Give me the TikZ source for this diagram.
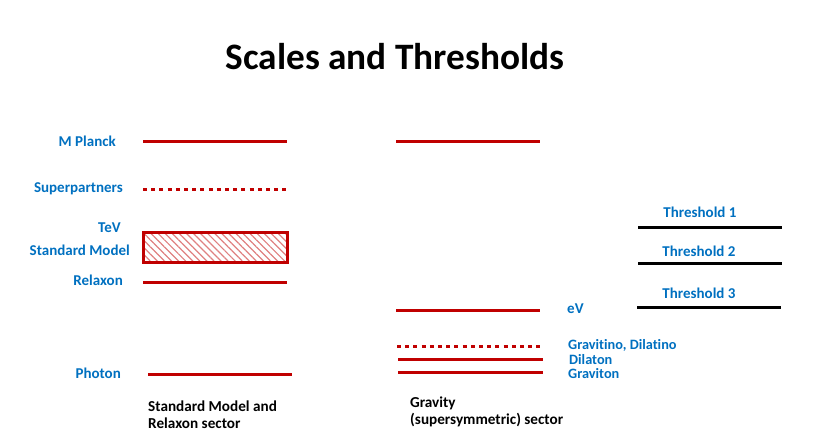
\documentclass[tikz,border=0pt]{standalone}
\usepackage{fontspec}
\setmainfont[Ligatures={NoCommon}]{Carlito}
\usetikzlibrary{patterns.meta}
\definecolor{lblue}{HTML}{0070C0}
\definecolor{lred}{HTML}{C00000}
\begin{document}
\begin{tikzpicture}[x=1pt,y=-1pt,
  lvl/.style={draw=lred,line width=3pt},
  dotlvl/.style={draw=lred,line width=3pt,dash pattern=on 4pt off 4.2pt},
  thr/.style={draw=black,line width=3pt},
  lab/.style={font=\bfseries\fontsize{15}{17}\selectfont,text=lblue,inner sep=0pt},
  tight/.style={font=\bfseries\fontsize{14.3}{16}\selectfont,text height=8pt,text depth=1pt,anchor=base west},
  sec/.style={font=\bfseries\fontsize{15.2}{17}\selectfont,text=black,inner sep=0pt,align=left}]
\useasboundingbox (0,0) rectangle (817,436);
\node[font=\bfseries\fontsize{37.3}{40}\selectfont] (title) at (395,57) {Scales and Thresholds};
% left sector
\coordinate (mp1) at (143,141); \coordinate (mp2) at (287,141);
\draw[lvl] (mp1) -- (mp2);
\node[lab,anchor=east] (mpl) at (116,141) {M Planck};
\coordinate (sp1) at (143,189); \coordinate (sp2) at (289,189);
\draw[dotlvl] (sp1) -- (sp2);
\node[lab,anchor=east] (spl) at (123,189) {Superpartners};
\node[lab,anchor=east] (tev) at (121,228) {TeV};
\node[draw=lred,line width=3pt,pattern={Lines[angle=-45,distance=5pt,line width=1.2pt]},pattern color=lred!50,minimum width=144pt,minimum height=30pt,inner sep=0pt,anchor=north west] (sm) at (142.5,232) {};
\node[lab,anchor=east] (sml) at (130,250) {Standard Model};
\coordinate (rx1) at (143,282); \coordinate (rx2) at (287,282);
\draw[lvl] (rx1) -- (rx2);
\node[lab,anchor=east] (rxl) at (123,280) {Relaxon};
\coordinate (ph1) at (148,374); \coordinate (ph2) at (292,374);
\draw[lvl] (ph1) -- (ph2);
\node[lab,anchor=east] (phl) at (121,373) {Photon};
\node[sec,anchor=north west] (sms) at (148,401) {Standard Model and\\Relaxon sector};
% gravity sector
\coordinate (g1) at (396,141); \coordinate (g2) at (540,141);
\draw[lvl] (g1) -- (g2);
\coordinate (ev1) at (396,310); \coordinate (ev2) at (540,310);
\draw[lvl] (ev1) -- (ev2);
\node[lab,anchor=west] (evl) at (567,309) {eV};
\coordinate (gd1) at (397,346); \coordinate (gd2) at (544,346);
\draw[dotlvl] (gd1) -- (gd2);
\node[lab,tight] (gdl) at (568,349.5) {Gravitino, Dilatino};
\coordinate (dl1) at (398,359); \coordinate (dl2) at (543,359);
\draw[lvl] (dl1) -- (dl2);
\node[lab,tight] (dll) at (569,364) {Dilaton};
\coordinate (gr1) at (398,372); \coordinate (gr2) at (543,372);
\draw[lvl] (gr1) -- (gr2);
\node[lab,tight] (grl) at (568,378.5) {Graviton};
\node[sec,anchor=north west] (gs) at (410,397) {Gravity\\(supersymmetric) sector};
% thresholds
\coordinate (t11) at (638,227); \coordinate (t12) at (782,227);
\draw[thr] (t11) -- (t12);
\node[lab] (t1l) at (700,212) {Threshold 1};
\coordinate (t21) at (638,263); \coordinate (t22) at (782,263);
\draw[thr] (t21) -- (t22);
\node[lab] (t2l) at (699,251) {Threshold 2};
\coordinate (t31) at (637,307); \coordinate (t32) at (781,307);
\draw[thr] (t31) -- (t32);
\node[lab] (t3l) at (699,293) {Threshold 3};
\end{tikzpicture}
\end{document}
